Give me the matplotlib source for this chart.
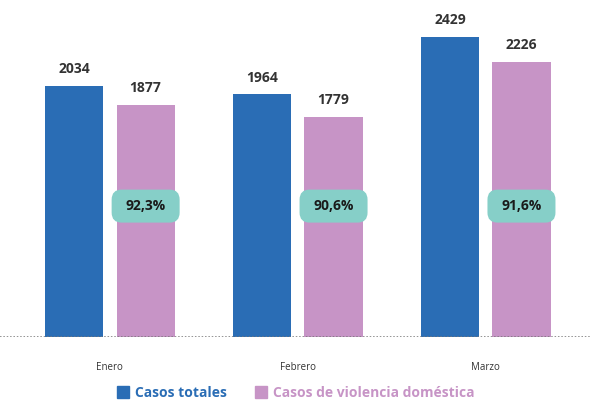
import matplotlib
matplotlib.use("Agg")
import matplotlib.pyplot as plt
import numpy as np
from matplotlib.patches import Patch, FancyBboxPatch

plt.rcParams['font.family'] = ['Open Sans', 'DejaVu Sans']

months = ["Enero", "Febrero", "Marzo"]
casos_totales = [2034, 1964, 2429]
casos_violencia = [1877, 1779, 2226]
porcentajes = ["92,3%", "90,6%", "91,6%"]
series_names = ["Casos totales", "Casos de violencia doméstica"]

blue = "#2a6db5"
pink = "#c794c6"
teal = "#86cfc8"
txt = "#333333"

fig = plt.figure(figsize=(5.91, 4.01), dpi=100)
ax = fig.add_axes([0.0, 1 - 337 / 401, 1.0, 337 / 401])

x = np.arange(len(months))
w = 0.31
off = 0.19
ax.bar(x - off, casos_totales, w, color=blue, zorder=2)
ax.bar(x + off, casos_violencia, w, color=pink, zorder=2)

for xi, v in zip(x - off, casos_totales):
    ax.text(xi, v + 80, str(v), ha="center", va="bottom", fontsize=10,
            fontweight="bold", color=txt)
for xi, v in zip(x + off, casos_violencia):
    ax.text(xi, v + 80, str(v), ha="center", va="bottom", fontsize=10,
            fontweight="bold", color=txt)

xmin, xmax, ymax = -0.585, 2.56, 2729
ax.set_xlim(xmin, xmax)
ax.set_ylim(0, ymax)

# pixel -> data scale
px_x = (xmax - xmin) / 591.0
px_y = ymax / 337.0
bw, bh = 68 * px_x, 33 * px_y
yc = 1060
for xi, p in zip(x + off, porcentajes):
    box = FancyBboxPatch((xi - bw / 2, yc - bh / 2), bw, bh,
                         boxstyle="round,pad=0,rounding_size=%f" % (10 * px_x),
                         mutation_aspect=px_y / px_x,
                         fc=teal, ec="none", zorder=3)
    ax.add_patch(box)
    ax.text(xi, yc, p, ha="center", va="center", fontsize=10,
            fontweight="bold", color="#1a1a1a", zorder=4)

ax.axhline(0, color="#777777", linestyle=(0, (1, 1.2)), linewidth=1.1, zorder=3)
for s in ax.spines.values():
    s.set_visible(False)
ax.set_yticks([])
ax.set_xticks(x)
ax.set_xticklabels(months, fontsize=7, color=txt)
ax.tick_params(axis="x", length=0, pad=18)

handles = [Patch(color=blue), Patch(color=pink)]
leg = fig.legend(handles, series_names, loc="center", bbox_to_anchor=(0.5, 1 - 393 / 401),
                 ncol=2, frameon=False, handlelength=0.9, handleheight=0.9,
                 handletextpad=0.4, columnspacing=2.0, borderpad=0.1,
                 prop=dict(weight="bold", size=10))
for t, c in zip(leg.get_texts(), [blue, pink]):
    t.set_color(c)

fig.savefig("out.png", dpi=100)
